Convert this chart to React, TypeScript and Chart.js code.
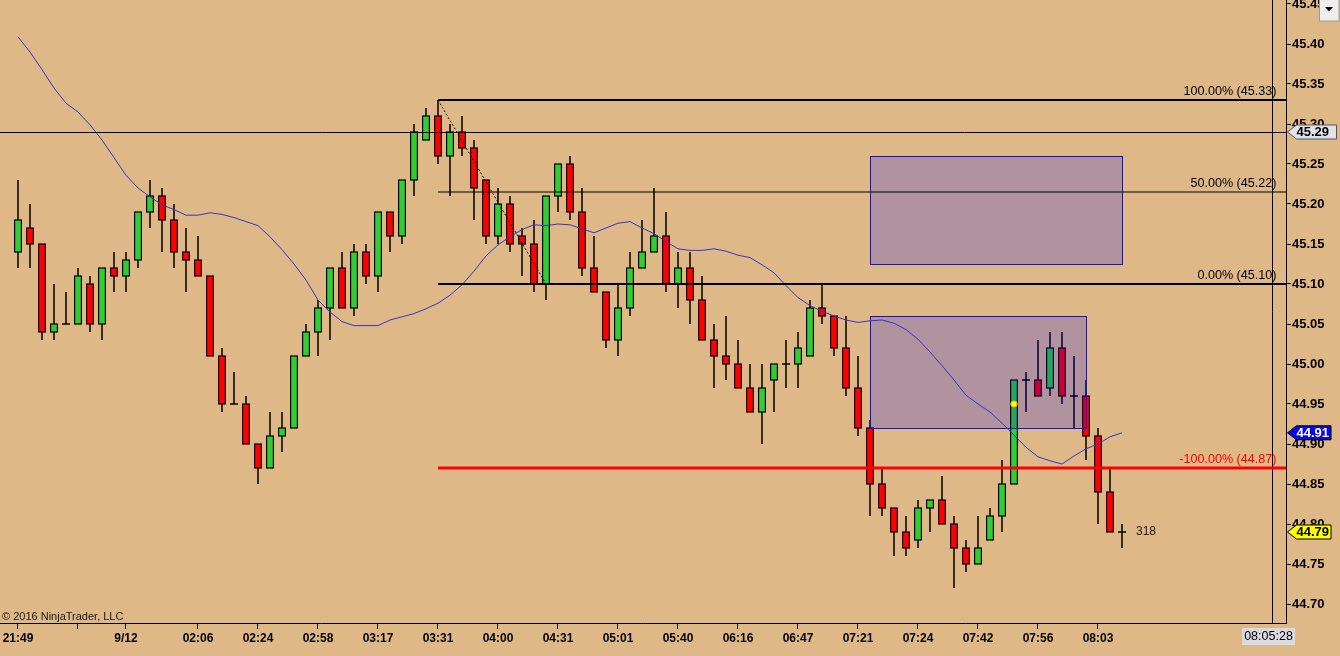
import React, { useEffect, useRef } from "react";
import { Chart, registerables } from "chart.js";

Chart.register(...registerables);

// ---------- data ----------
const opens = [
  45.14, 45.17, 45.15, 45.04, 45.05, 45.05, 45.10, 45.05, 45.12, 45.11,
  45.13, 45.19, 45.21, 45.18, 45.14, 45.13, 45.11, 45.01, 44.95, 44.95,
  44.90, 44.87, 44.91, 44.92, 45.01, 45.04, 45.07, 45.12, 45.07, 45.14,
  45.11, 45.19, 45.16, 45.23, 45.28, 45.31, 45.26, 45.29, 45.27, 45.23,
  45.16, 45.20, 45.16, 45.15, 45.10, 45.21, 45.25, 45.19, 45.12, 45.09,
  45.03, 45.07, 45.12, 45.14, 45.16, 45.10, 45.12, 45.08, 45.03, 45.01,
  45.00, 44.97, 44.94, 44.98, 45.00, 45.00, 45.01, 45.07, 45.06, 45.02,
  44.97, 44.92, 44.85, 44.82, 44.79, 44.78, 44.82, 44.83, 44.80, 44.77,
  44.75, 44.78, 44.81, 44.85, 44.98, 44.98, 44.97, 45.02, 44.96, 44.96,
  44.91, 44.84, 44.79,
];
const highs = [
  45.23, 45.20, 45.15, 45.10, 45.09, 45.12, 45.11, 45.12, 45.14, 45.14,
  45.19, 45.23, 45.22, 45.20, 45.17, 45.16, 45.11, 45.02, 44.99, 44.96,
  44.90, 44.94, 44.94, 45.01, 45.05, 45.08, 45.12, 45.14, 45.15, 45.15,
  45.19, 45.19, 45.23, 45.30, 45.32, 45.33, 45.30, 45.31, 45.28, 45.23,
  45.22, 45.21, 45.17, 45.18, 45.21, 45.25, 45.26, 45.22, 45.16, 45.09,
  45.10, 45.14, 45.18, 45.22, 45.19, 45.14, 45.14, 45.11, 45.05, 45.06,
  45.03, 45.00, 45.00, 45.00, 45.03, 45.04, 45.08, 45.10, 45.06, 45.06,
  45.01, 44.93, 44.87, 44.82, 44.81, 44.83, 44.83, 44.86, 44.81, 44.78,
  44.81, 44.82, 44.88, 44.98, 44.99, 45.03, 45.04, 45.04, 45.01, 44.98,
  44.92, 44.87, 44.80,
];
const lows = [
  45.12, 45.12, 45.03, 45.03, 45.05, 45.05, 45.04, 45.03, 45.09, 45.09,
  45.12, 45.17, 45.14, 45.12, 45.09, 45.11, 45.01, 44.94, 44.95, 44.90,
  44.85, 44.87, 44.89, 44.92, 45.01, 45.01, 45.03, 45.07, 45.06, 45.10,
  45.09, 45.14, 45.15, 45.21, 45.28, 45.25, 45.21, 45.26, 45.18, 45.15,
  45.15, 45.14, 45.11, 45.09, 45.08, 45.19, 45.18, 45.11, 45.09, 45.02,
  45.01, 45.06, 45.12, 45.14, 45.09, 45.07, 45.05, 45.03, 44.97, 44.98,
  44.97, 44.94, 44.90, 44.94, 44.97, 44.97, 45.01, 45.05, 45.01, 44.96,
  44.91, 44.81, 44.81, 44.76, 44.76, 44.77, 44.79, 44.80, 44.72, 44.74,
  44.75, 44.78, 44.79, 44.85, 44.94, 44.96, 44.96, 44.95, 44.92, 44.88,
  44.80, 44.79, 44.77,
];
const closes = [
  45.18, 45.15, 45.04, 45.05, 45.05, 45.11, 45.05, 45.12, 45.11, 45.13,
  45.19, 45.21, 45.18, 45.14, 45.13, 45.11, 45.01, 44.95, 44.95, 44.90,
  44.87, 44.91, 44.92, 45.01, 45.04, 45.07, 45.12, 45.07, 45.14, 45.11,
  45.19, 45.16, 45.23, 45.29, 45.31, 45.26, 45.29, 45.27, 45.22, 45.16,
  45.20, 45.15, 45.15, 45.10, 45.21, 45.25, 45.19, 45.12, 45.09, 45.03,
  45.07, 45.12, 45.14, 45.16, 45.10, 45.12, 45.08, 45.03, 45.01, 45.00,
  44.97, 44.94, 44.97, 45.00, 45.00, 45.02, 45.07, 45.06, 45.02, 44.97,
  44.92, 44.85, 44.82, 44.79, 44.77, 44.82, 44.83, 44.80, 44.77, 44.75,
  44.77, 44.81, 44.85, 44.98, 44.98, 44.96, 45.02, 44.96, 44.96, 44.91,
  44.84, 44.79, 44.79,
];
const maValues = [
  45.409, 45.390, 45.368, 45.345, 45.326, 45.315, 45.299, 45.280, 45.258, 45.236,
  45.220, 45.209, 45.199, 45.193, 45.186, 45.186, 45.189, 45.187, 45.183, 45.178,
  45.173, 45.159, 45.143, 45.125, 45.105, 45.080, 45.065, 45.053, 45.048, 45.048,
  45.048, 45.055, 45.059, 45.063, 45.069, 45.076, 45.086, 45.099, 45.116, 45.135,
  45.149, 45.159, 45.168, 45.174, 45.173, 45.175, 45.174, 45.169, 45.164, 45.170,
  45.176, 45.178, 45.170, 45.163, 45.153, 45.144, 45.142, 45.142, 45.144, 45.141,
  45.136, 45.133, 45.124, 45.114, 45.098, 45.083, 45.073, 45.066, 45.060, 45.055,
  45.052, 45.054, 45.055, 45.051, 45.043, 45.031, 45.015, 44.998, 44.980, 44.961,
  44.950, 44.940, 44.926, 44.911, 44.896, 44.884, 44.879, 44.875, 44.885, 44.894,
  44.900, 44.909, 44.914,
];
const xTickBars = [0, 5, 9, 15, 20, 25, 30, 35, 40, 45, 50, 55, 60, 65, 70, 75, 80, 85, 90];
const xTickLabels = [
  "21:49", "", "9/12", "02:06", "02:24", "02:58", "03:17", "03:31", "04:00", "04:31",
  "05:01", "05:40", "06:16", "06:47", "07:21", "07:24", "07:42", "07:56", "08:03",
];
const yTickValues = [
  44.7, 44.75, 44.8, 44.85, 44.9, 44.95, 45.0, 45.05, 45.1, 45.15, 45.2, 45.25, 45.3, 45.35, 45.4, 45.45,
];
const fibPrices = [45.33, 45.215, 45.1, 44.87];
const fibLabels = ["100.00% (45.33)", "50.00% (45.22)", "0.00% (45.10)", "-100.00% (44.87)"];
const fibStartBar = 35;
const fibAnchorEndBar = 44;
const boxFromBar = [71, 71];
const boxToBar = [92, 89];
const boxTopPrice = [45.26, 45.06];
const boxBottomPrice = [45.125, 44.92];
const horizontalLinePrice = 45.29;
const markerBar = 83;
const markerPrice = 44.95;
const rightMarginBar = 104.5;
const barCounterText = "318";
const clockText = "08:05:28";
const copyrightText = "\u00A9 2016 NinjaTrader, LLC";

// ---------- styles ----------
const BG = "#DEB887";
const UP = "#32CD32";
const DOWN = "#FF0000";
const FONT = '"Liberation Sans", Arial, sans-serif';
const fibWidths = [2, 1, 2, 3];
const fibColors = ["#000000", "#000000", "#000000", "#FF0000"];

export default function App() {
  const ref = useRef<HTMLCanvasElement | null>(null);

  useEffect(() => {
    document.body.style.margin = "0";
    document.body.style.background = BG;
    const canvas = ref.current;
    if (!canvas) return;

    const bgPlugin = {
      id: "bg",
      beforeDraw(chart: any) {
        const ctx = chart.ctx;
        ctx.save();
        ctx.fillStyle = BG;
        ctx.fillRect(0, 0, chart.width, chart.height);
        ctx.restore();
      },
    };

    const candlePlugin = {
      id: "candles",
      beforeDatasetsDraw(chart: any) {
        const ctx = chart.ctx;
        const xs = chart.scales.x;
        const ys = chart.scales.y;
        const area = chart.chartArea;
        ctx.save();
        ctx.beginPath();
        ctx.rect(area.left, area.top, area.right - area.left, area.bottom - area.top);
        ctx.clip();
        for (let i = 0; i < opens.length; i++) {
          const x = xs.getPixelForValue(i);
          const yH = ys.getPixelForValue(highs[i]);
          const yL = ys.getPixelForValue(lows[i]);
          const yO = ys.getPixelForValue(opens[i]);
          const yC = ys.getPixelForValue(closes[i]);
          ctx.fillStyle = "#000";
          ctx.fillRect(x - 0.75, yH, 1.5, yL - yH);
          const top = Math.min(yO, yC);
          const bot = Math.max(yO, yC);
          const h = bot - top;
          if (h < 1.5) {
            ctx.fillRect(x - 4, top - 0.75, 8, 1.5);
          } else {
            ctx.fillRect(x - 4, top - 0.6, 8, h + 1.2);
            ctx.fillStyle = closes[i] > opens[i] ? UP : DOWN;
            ctx.fillRect(x - 2.8, top + 0.6, 5.6, h - 1.2);
          }
        }
        // rectangles drawn over the candles
        for (let b = 0; b < boxFromBar.length; b++) {
          const x1 = xs.getPixelForValue(boxFromBar[b]);
          const x2 = xs.getPixelForValue(boxToBar[b]);
          const y1 = ys.getPixelForValue(boxTopPrice[b]);
          const y2 = ys.getPixelForValue(boxBottomPrice[b]);
          ctx.fillStyle = "rgba(0,0,255,0.2)";
          ctx.fillRect(x1, y1, x2 - x1, y2 - y1);
          ctx.strokeStyle = "#1010E0";
          ctx.lineWidth = 1;
          ctx.strokeRect(Math.round(x1) + 0.5, Math.round(y1) + 0.5, Math.round(x2 - x1), Math.round(y2 - y1));
        }
        ctx.restore();
      },
      afterDatasetsDraw(chart: any) {
        const ctx = chart.ctx;
        const xs = chart.scales.x;
        const ys = chart.scales.y;
        const area = chart.chartArea;
        ctx.save();
        // horizontal line across the chart
        const yh = Math.round(ys.getPixelForValue(horizontalLinePrice)) + 0.5;
        ctx.strokeStyle = "#000";
        ctx.lineWidth = 1;
        ctx.beginPath();
        ctx.moveTo(area.left, yh);
        ctx.lineTo(area.right, yh);
        ctx.stroke();
        // right margin vertical line
        const xv = Math.round(xs.getPixelForValue(rightMarginBar)) + 0.5;
        ctx.beginPath();
        ctx.moveTo(xv, area.top);
        ctx.lineTo(xv, area.bottom);
        ctx.stroke();
        // fib lines
        const xStart = xs.getPixelForValue(fibStartBar);
        for (let k = 0; k < fibPrices.length; k++) {
          const y = ys.getPixelForValue(fibPrices[k]);
          ctx.strokeStyle = fibColors[k];
          ctx.lineWidth = fibWidths[k];
          ctx.beginPath();
          ctx.moveTo(xStart, y);
          ctx.lineTo(area.right, y);
          ctx.stroke();
          ctx.fillStyle = fibColors[k];
          ctx.font = `12.6px ${FONT}`;
          ctx.textAlign = "right";
          ctx.textBaseline = "alphabetic";
          ctx.fillText(fibLabels[k], xv + 4, y - 5);
        }
        // dotted anchor line
        ctx.strokeStyle = "#000";
        ctx.lineWidth = 1;
        ctx.setLineDash([2, 2]);
        ctx.beginPath();
        ctx.moveTo(xStart, ys.getPixelForValue(fibPrices[0]));
        ctx.lineTo(xs.getPixelForValue(fibAnchorEndBar), ys.getPixelForValue(fibPrices[2]));
        ctx.stroke();
        ctx.setLineDash([]);
        // marker dot
        ctx.fillStyle = "#FFFF00";
        ctx.strokeStyle = "#B0A000";
        ctx.lineWidth = 0.8;
        ctx.beginPath();
        ctx.arc(xs.getPixelForValue(markerBar), ys.getPixelForValue(markerPrice), 3.3, 0, Math.PI * 2);
        ctx.fill();
        ctx.stroke();
        // bar counter text
        const last = closes.length - 1;
        ctx.fillStyle = "#222";
        ctx.font = `12px ${FONT}`;
        ctx.textAlign = "left";
        ctx.textBaseline = "middle";
        ctx.fillText(barCounterText, xs.getPixelForValue(last) + 14, ys.getPixelForValue(closes[last]));
        ctx.restore();
      },
      afterDraw(chart: any) {
        const ctx = chart.ctx;
        const ys = chart.scales.y;
        const area = chart.chartArea;
        ctx.save();
        const tag = (y: number, text: string, fill: string, color: string, right: number, border: string) => {
          const tip = area.right + 1.5;
          const bx = tip + 9;
          const h = 14;
          ctx.beginPath();
          ctx.moveTo(tip, y);
          ctx.lineTo(bx, y - h / 2);
          ctx.lineTo(right, y - h / 2);
          ctx.lineTo(right, y + h / 2);
          ctx.lineTo(bx, y + h / 2);
          ctx.closePath();
          ctx.fillStyle = fill;
          ctx.fill();
          ctx.strokeStyle = border;
          ctx.lineWidth = 1;
          ctx.stroke();
          ctx.fillStyle = color;
          ctx.font = `bold 13px ${FONT}`;
          ctx.textAlign = "left";
          ctx.textBaseline = "middle";
          ctx.fillText(text, bx, y + 0.5);
        };
        const last = closes.length - 1;
        tag(ys.getPixelForValue(horizontalLinePrice), horizontalLinePrice.toFixed(2), "#E2E2EC", "#000", 1336.5, "#555");
        tag(ys.getPixelForValue(maValues[last]), maValues[last].toFixed(2), "#0808E8", "#FFF", 1331, "#000");
        tag(ys.getPixelForValue(closes[last]), closes[last].toFixed(2), "#FFFF00", "#000", 1331, "#000");

        // clock box
        ctx.fillStyle = "#DADAE2";
        ctx.fillRect(1242, 628, 53, 17);
        ctx.fillStyle = "#000";
        ctx.font = `12.5px ${FONT}`;
        ctx.textAlign = "center";
        ctx.textBaseline = "middle";
        ctx.fillText(clockText, 1268.5, 637);

        // dropdown button
        ctx.fillStyle = "#EEEEEE";
        ctx.fillRect(1319, 0, 20, 21);
        ctx.strokeStyle = "#9A9A9A";
        ctx.lineWidth = 1;
        ctx.strokeRect(1319.5, -0.5, 19.5, 21.5);
        ctx.fillStyle = "#000";
        ctx.beginPath();
        ctx.moveTo(1325, 7);
        ctx.lineTo(1333, 7);
        ctx.lineTo(1329, 11.5);
        ctx.closePath();
        ctx.fill();

        // copyright
        ctx.fillStyle = "#1a1a1a";
        ctx.font = `11px ${FONT}`;
        ctx.textAlign = "left";
        ctx.textBaseline = "alphabetic";
        ctx.fillText(copyrightText, 2, 620);
        ctx.restore();
      },
    };

    const chart = new Chart(canvas, {
      type: "line",
      data: {
        datasets: [
          {
            data: maValues.map((v, i) => ({ x: i, y: v })),
            borderColor: "#3434CC",
            borderWidth: 1,
            pointRadius: 0,
            tension: 0,
            fill: false,
          },
        ],
      },
      options: {
        animation: false,
        responsive: false,
        events: [],
        layout: { padding: 0 },
        plugins: { legend: { display: false }, tooltip: { enabled: false } },
        scales: {
          x: {
            type: "linear",
            position: "bottom",
            min: -1.5,
            max: 105.6667,
            afterBuildTicks: (s: any) => {
              s.ticks = xTickBars.map((v) => ({ value: v }));
            },
            afterFit: (s: any) => {
              s.height = 33;
              s.paddingLeft = 0;
              s.paddingRight = 0;
            },
            ticks: {
              autoSkip: false,
              maxRotation: 0,
              minRotation: 0,
              padding: 2,
              color: "#000",
              font: { family: FONT, size: 12, weight: "bold" },
              callback: (v: any) => {
                const k = xTickBars.indexOf(Number(v));
                return k >= 0 ? xTickLabels[k] : "";
              },
            },
            grid: { drawOnChartArea: false, drawTicks: true, tickLength: 6, color: "#000", lineWidth: 1 },
            border: { display: true, color: "#000", width: 1 },
          },
          y: {
            type: "linear",
            position: "right",
            min: 44.67625,
            max: 45.455,
            afterBuildTicks: (s: any) => {
              s.ticks = yTickValues.map((v) => ({ value: v }));
            },
            afterFit: (s: any) => {
              s.width = 54;
              s.paddingTop = 0;
              s.paddingBottom = 0;
            },
            ticks: {
              padding: 1,
              color: "#000",
              font: { family: FONT, size: 13, weight: "bold" },
              callback: (v: any) => Number(v).toFixed(2),
            },
            grid: { drawOnChartArea: false, drawTicks: true, tickLength: 5, color: "#000", lineWidth: 1 },
            border: { display: true, color: "#000", width: 1 },
          },
        },
      },
      plugins: [bgPlugin, candlePlugin],
    } as any);

    return () => chart.destroy();
  }, []);

  return (
    <div style={{ position: "absolute", left: 0, top: 0, width: 1340, height: 656 }}>
      <canvas ref={ref} width={1340} height={656} style={{ width: 1340, height: 656, display: "block" }} />
    </div>
  );
}
